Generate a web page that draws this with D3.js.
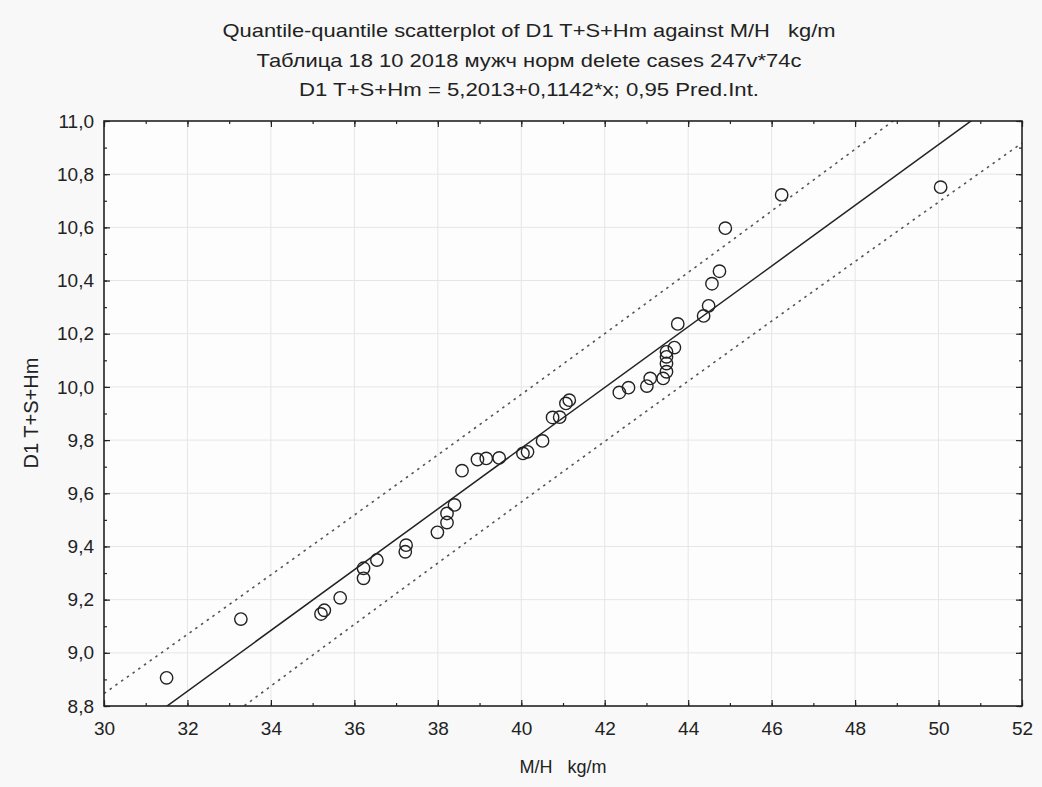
<!DOCTYPE html>
<meta charset="utf-8">
<script src="https://d3js.org/d3.v7.min.js"></script>
<style>
  body { margin: 0; background: #f8f8f8; }
  text { font-family: "Liberation Sans", Arial, sans-serif; fill: #222; white-space: pre; }
</style>
<div id="chart"></div>
<script>

// chart texts
var titleLines = [
  "Quantile-quantile scatterplot of D1 T+S+Hm against M/H   kg/m",
  "Таблица 18 10 2018 мужч норм delete cases 247v*74c",
  "D1 T+S+Hm = 5,2013+0,1142*x; 0,95 Pred.Int."
];
var xLabel = "M/H   kg/m";
var yLabel = "D1 T+S+Hm";

// tick values
var xTicks = [30, 32, 34, 36, 38, 40, 42, 44, 46, 48, 50, 52];
var yTicks = [8.8, 9.0, 9.2, 9.4, 9.6, 9.8, 10.0, 10.2, 10.4, 10.6, 10.8, 11.0];

// regression from the title
var intercept = 5.2013, slope = 0.1142;

// points
var mh = [31.5, 33.28, 35.2, 35.28, 35.66, 36.22, 36.22, 36.54, 37.22, 37.24,
          37.99, 38.22, 38.22, 38.4, 38.58, 38.95, 39.16, 39.47, 40.04, 40.15,
          40.51, 40.75, 40.92, 41.07, 41.15, 42.35, 42.57, 43.01, 43.09, 43.4,
          43.48, 43.48, 43.48, 43.48, 43.67, 43.75, 44.37, 44.49, 44.57, 44.75,
          44.89, 46.24, 50.05];
var d1 = [8.906, 9.127, 9.146, 9.16, 9.207, 9.28, 9.318, 9.349, 9.38, 9.405,
          9.453, 9.49, 9.524, 9.556, 9.685, 9.727, 9.731, 9.733, 9.75, 9.756,
          9.797, 9.885, 9.886, 9.938, 9.95, 9.979, 9.997, 10.003, 10.032, 10.032,
          10.057, 10.088, 10.113, 10.132, 10.148, 10.237, 10.267, 10.305, 10.388, 10.435,
          10.597, 10.722, 10.751];

var W = 1042, H = 787;
var pL = 104, pR = 1022, pT = 121, pB = 706;

var svg = d3.select("#chart").append("svg")
  .attr("width", W).attr("height", H);

var x = d3.scaleLinear().domain([30, 52]).range([pL, pR]);
var y = d3.scaleLinear().domain([8.8, 11.0]).range([pB, pT]);

var comma = function(f) { return function(d) { return d3.format(f)(d).replace(".", ","); }; };

// plot background + grid
svg.append("rect").attr("x", pL).attr("y", pT)
  .attr("width", pR - pL).attr("height", pB - pT).attr("fill", "#fdfdfd");
svg.append("g").selectAll("line").data(xTicks.slice(1, -1)).enter().append("line")
  .attr("x1", d => x(d)).attr("x2", d => x(d))
  .attr("y1", pT).attr("y2", pB)
  .attr("stroke", "#e6e6e6").attr("stroke-width", 1);
svg.append("g").selectAll("line").data(yTicks.slice(1, -1)).enter().append("line")
  .attr("x1", pL).attr("x2", pR)
  .attr("y1", d => y(d)).attr("y2", d => y(d))
  .attr("stroke", "#e6e6e6").attr("stroke-width", 1);

// minor ticks
var xMinor = d3.range(30, 52.01, 1);
var yMinor = d3.range(8.8, 11.01, 0.1);

function styleAxis(g) {
  g.select(".domain").remove();
  g.selectAll(".tick line").attr("stroke", "#222").attr("stroke-width", 1.2);
  g.selectAll("text").style("font-size", "19px").attr("fill", "#222");
}

svg.append("g").attr("transform", "translate(0," + pB + ")")
  .call(d3.axisBottom(x).tickValues(xMinor).tickSize(-3).tickFormat("")).call(styleAxis);
svg.append("g").attr("transform", "translate(0," + pT + ")")
  .call(d3.axisTop(x).tickValues(xMinor).tickSize(-3).tickFormat("")).call(styleAxis);
svg.append("g").attr("transform", "translate(" + pL + ",0)")
  .call(d3.axisLeft(y).tickValues(yMinor).tickSize(-3).tickFormat("")).call(styleAxis);
svg.append("g").attr("transform", "translate(" + pR + ",0)")
  .call(d3.axisRight(y).tickValues(yMinor).tickSize(-3).tickFormat("")).call(styleAxis);

// major ticks
svg.append("g").attr("transform", "translate(0," + pB + ")")
  .call(d3.axisBottom(x).tickValues(xTicks).tickSize(-6).tickPadding(16).tickFormat(d3.format("d")))
  .call(styleAxis);
svg.append("g").attr("transform", "translate(0," + pT + ")")
  .call(d3.axisTop(x).tickValues(xTicks).tickSize(-6).tickFormat("")).call(styleAxis);
svg.append("g").attr("transform", "translate(" + pL + ",0)")
  .call(d3.axisLeft(y).tickValues(yTicks).tickSize(-6).tickPadding(10).tickFormat(comma(".1f")))
  .call(styleAxis);
svg.append("g").attr("transform", "translate(" + pR + ",0)")
  .call(d3.axisRight(y).tickValues(yTicks).tickSize(-6).tickFormat("")).call(styleAxis);

// clip
svg.append("clipPath").attr("id", "plot")
  .append("rect").attr("x", pL).attr("y", pT)
  .attr("width", pR - pL).attr("height", pB - pT);

// regression and prediction band
var n = mh.length;
var xm = d3.mean(mh);
var sxx = d3.sum(mh, d => (d - xm) * (d - xm));
var ts = 0.2;
var xs = d3.range(30, 52.01, 0.25);
function half(v) { return ts * Math.sqrt(1 + 1 / n + (v - xm) * (v - xm) / sxx); }

var line = d3.line().x(d => x(d[0])).y(d => y(d[1]));
var pg = svg.append("g").attr("clip-path", "url(#plot)");

pg.append("path").datum(xs.map(v => [v, intercept + slope * v + half(v)]))
  .attr("d", line).attr("fill", "none").attr("stroke", "#555")
  .attr("stroke-width", 1.6).attr("stroke-dasharray", "2.5,4.5");
pg.append("path").datum(xs.map(v => [v, intercept + slope * v - half(v)]))
  .attr("d", line).attr("fill", "none").attr("stroke", "#555")
  .attr("stroke-width", 1.6).attr("stroke-dasharray", "2.5,4.5");
pg.append("path").datum([[30, intercept + slope * 30], [52, intercept + slope * 52]])
  .attr("d", line).attr("fill", "none").attr("stroke", "#222").attr("stroke-width", 1.5);

// points
svg.append("g").selectAll("circle").data(mh).enter().append("circle")
  .attr("cx", d => x(d))
  .attr("cy", (d, i) => y(d1[i]))
  .attr("r", 6.2)
  .attr("fill", "none")
  .attr("stroke", "#222")
  .attr("stroke-width", 1.4);

// frame
svg.append("rect").attr("x", pL).attr("y", pT)
  .attr("width", pR - pL).attr("height", pB - pT)
  .attr("fill", "none").attr("stroke", "#222").attr("stroke-width", 1.6);

// titles
var tl = [{y: 37, w: 613}, {y: 67, w: 545}, {y: 96, w: 460}];
svg.selectAll(".title").data(titleLines).enter().append("text")
  .attr("class", "title")
  .attr("x", 529)
  .attr("y", (d, i) => tl[i].y)
  .attr("text-anchor", "middle")
  .attr("textLength", (d, i) => tl[i].w)
  .attr("lengthAdjust", "spacingAndGlyphs")
  .style("font-size", "19px")
  .text(d => d);

svg.append("text")
  .attr("x", 563).attr("y", 773)
  .attr("text-anchor", "middle")
  .style("font-size", "18px")
  .text(xLabel);

svg.append("text")
  .attr("transform", "translate(38,413) rotate(-90)")
  .attr("text-anchor", "middle")
  .style("font-size", "20px")
  .text(yLabel);

</script>
